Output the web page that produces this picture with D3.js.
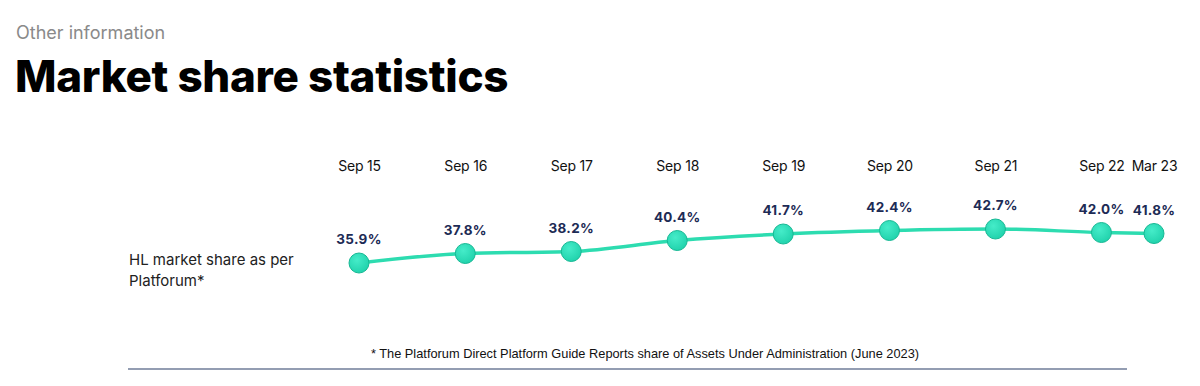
<html>
<head>
  <script src="https://d3js.org/d3.v7.min.js"></script>
  <style>
    body { margin: 0; background: #fff; font-family: Inter, "Noto Sans", sans-serif; }
  </style>
</head>
<body>
  <div id="chart"></div>
  <script>
    const periods = ["Sep 15", "Sep 16", "Sep 17", "Sep 18", "Sep 19", "Sep 20", "Sep 21", "Sep 22", "Mar 23"];
    const dates = ["2015-09", "2016-09", "2017-09", "2018-09", "2019-09", "2020-09", "2021-09", "2022-09", "2023-03"];
    const shares = [35.9, 37.8, 38.2, 40.4, 41.7, 42.4, 42.7, 42.0, 41.8];

    const w = 1200;
    const h = 386;
    const parse = d3.timeParse("%Y-%m");

    const data = periods.map((p, i) => ({ label: p, date: parse(dates[i]), value: shares[i] }));

    const svg = d3.select("#chart")
      .append("svg")
      .attr("width", w)
      .attr("height", h);

    // header
    svg.append("text")
      .attr("x", 16).attr("y", 39)
      .style("font-size", "18px")
      .style("fill", "#8a8a8a")
      .text("Other information");

    svg.append("text")
      .attr("x", 15).attr("y", 92)
      .style("font-size", "44px")
      .style("font-weight", 800)
      .style("letter-spacing", "-0.3px")
      .style("fill", "#000")
      .text("Market share statistics");

    const xScale = d3.scaleTime()
      .domain([parse("2015-09"), parse("2023-03")])
      .range([359, 1154]);

    const yScale = d3.scaleLinear()
      .domain([30, 45])
      .range([292.5, 217.5]);

    // period labels as a top axis
    const xAxis = d3.axisTop(xScale)
      .tickValues(data.map(d => d.date))
      .tickFormat((d, i) => periods[i])
      .tickSize(0);

    const axisG = svg.append("g")
      .attr("transform", "translate(0,174)")
      .call(xAxis);
    axisG.select(".domain").remove();
    axisG.selectAll("text")
      .style("font-family", "Inter, sans-serif")
      .style("font-size", "14px")
      .style("font-weight", 400)
      .style("letter-spacing", "-0.2px")
      .style("fill", "#111");

    // row label
    svg.append("text")
      .attr("x", 129).attr("y", 265)
      .style("font-size", "15px")
      .style("fill", "#222")
      .selectAll("tspan")
      .data(["HL market share as per", "Platforum*"])
      .join("tspan")
      .attr("x", 129)
      .attr("dy", (d, i) => i ? 21 : 0)
      .text(d => d);

    const line = d3.line()
      .x(d => xScale(d.date))
      .y(d => yScale(d.value))
      .curve(d3.curveMonotoneX);

    svg.append("path")
      .datum(data)
      .attr("d", line)
      .attr("fill", "none")
      .attr("stroke", "#2ddcb0")
      .attr("stroke-width", 3.5);

    const defs = svg.append("defs");
    const grad = defs.append("radialGradient")
      .attr("id", "dotGrad")
      .attr("cx", "40%").attr("cy", "35%").attr("r", "65%");
    grad.append("stop").attr("offset", "0%").attr("stop-color", "#45ecc9");
    grad.append("stop").attr("offset", "100%").attr("stop-color", "#22d3ad");

    svg.selectAll(".dot")
      .data(data)
      .join("circle")
      .attr("class", "dot")
      .attr("cx", d => xScale(d.date))
      .attr("cy", d => yScale(d.value))
      .attr("r", 10)
      .attr("fill", "url(#dotGrad)")
      .attr("stroke", "#17b894")
      .attr("stroke-width", 1);

    svg.selectAll(".val")
      .data(data)
      .join("text")
      .attr("class", "val")
      .attr("x", d => xScale(d.date))
      .attr("y", d => yScale(d.value) - 19)
      .attr("text-anchor", "middle")
      .style("font-size", "13.5px")
      .style("font-weight", 700)
      .style("letter-spacing", "0.3px")
      .style("fill", "#1d2b55")
      .text(d => d.value.toFixed(1) + "%");

    // footnote
    svg.append("text")
      .attr("x", 645).attr("y", 358)
      .attr("text-anchor", "middle")
      .style("font-family", "'Liberation Sans Narrow', 'Liberation Sans', sans-serif")
      .style("font-size", "12.8px")
      .style("fill", "#111")
      .text("* The Platforum Direct Platform Guide Reports share of Assets Under Administration (June 2023)");

    svg.append("line")
      .attr("x1", 128).attr("x2", 1127)
      .attr("y1", 369).attr("y2", 369)
      .attr("stroke", "#6f7d98")
      .attr("stroke-width", 1.5);
  </script>
</body>
</html>
